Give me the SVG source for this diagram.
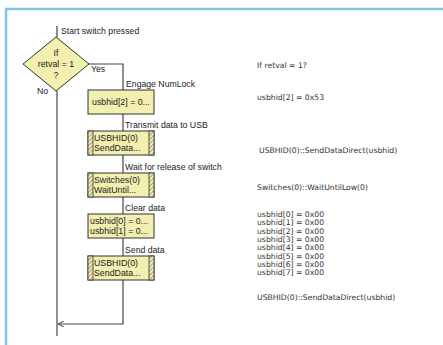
<svg xmlns="http://www.w3.org/2000/svg" width="443" height="345" viewBox="0 0 443 345">
<defs>
<pattern id="hatch" width="3" height="3" patternUnits="userSpaceOnUse" patternTransform="rotate(45)">
<rect width="3" height="3" fill="#f3efb0"/>
<line x1="0" y1="0" x2="0" y2="3" stroke="#555" stroke-width="1"/>
</pattern>
<marker id="arr" viewBox="0 0 6 6" refX="5" refY="3" markerWidth="5" markerHeight="5" orient="auto">
<path d="M0,0 L6,3 L0,6" fill="none" stroke="#444" stroke-width="1"/>
</marker>
</defs>
<style>
.lbl{font-family:"Liberation Sans",Arial,sans-serif;font-size:8.7px;fill:#222}
.btx{font-family:"Liberation Sans",Arial,sans-serif;font-size:8.8px;fill:#222}
.code{font-family:"DejaVu Sans",Verdana,sans-serif;font-size:7.7px;fill:#333}
.box{fill:#f3efb0;stroke:#333;stroke-width:1}
.hat{fill:url(#hatch);stroke:#333;stroke-width:0.8}
.ln{stroke:#444;stroke-width:1.2;fill:none}
</style>
<rect width="443" height="345" fill="#ffffff"/>
<g id="frame">
<line x1="5" y1="9" x2="443" y2="9" stroke="#7cc7df" stroke-width="2.5"/>
<line x1="6" y1="8" x2="6" y2="345" stroke="#7cc7df" stroke-width="2.5"/>
</g>
<g id="connectors">
<line class="ln" x1="57" y1="26" x2="57" y2="37"/>
<line class="ln" x1="57" y1="91" x2="57" y2="336"/>
<polyline class="ln" points="88,64 123,64 123,90"/>
<line class="ln" x1="123" y1="114" x2="123" y2="131"/>
<line class="ln" x1="123" y1="155" x2="123" y2="173"/>
<line class="ln" x1="123" y1="197" x2="123" y2="214"/>
<line class="ln" x1="123" y1="238" x2="123" y2="256"/>
<polyline class="ln" points="123,280 123,324 59,324" marker-end="url(#arr)"/>
</g>
<g id="labels">
<text class="lbl" x="61" y="34">Start switch pressed</text>
<text class="lbl" x="91" y="72">Yes</text>
<text class="lbl" x="37" y="94">No</text>
<text class="lbl" x="126" y="87">Engage NumLock</text>
<text class="lbl" x="125" y="128">Transmit data to USB</text>
<text class="lbl" x="125" y="170">Wait for release of switch</text>
<text class="lbl" x="125" y="211">Clear data</text>
<text class="lbl" x="125" y="253">Send data</text>
</g>
<g id="decision">
<polygon points="56,37 89,64 56,91 23,64" fill="#f3efb0" stroke="#333" stroke-width="1"/>
<text class="btx" x="56" y="56" text-anchor="middle">If</text>
<text class="btx" x="56" y="67" text-anchor="middle">retval = 1</text>
<text class="btx" x="56" y="78" text-anchor="middle">?</text>
</g>
<g id="box1">
<rect class="box" x="88" y="90" width="66" height="24"/>
<text class="btx" x="92" y="105">usbhid[2] = 0...</text>
</g>
<g id="box2">
<rect class="box" x="88" y="131" width="66" height="24"/>
<rect class="hat" x="88" y="131" width="5" height="24"/>
<rect class="hat" x="149" y="131" width="5" height="24"/>
<text class="btx" x="94" y="141">USBHID(0)</text>
<text class="btx" x="94" y="151">SendData...</text>
</g>
<g id="box3">
<rect class="box" x="88" y="173" width="66" height="24"/>
<rect class="hat" x="88" y="173" width="5" height="24"/>
<rect class="hat" x="149" y="173" width="5" height="24"/>
<text class="btx" x="94" y="183">Switches(0)</text>
<text class="btx" x="94" y="193">WaitUntil...</text>
</g>
<g id="box4">
<rect class="box" x="88" y="214" width="66" height="24"/>
<text class="btx" x="90" y="224">usbhid[0] = 0...</text>
<text class="btx" x="90" y="234">usbhid[1] = 0...</text>
</g>
<g id="box5">
<rect class="box" x="88" y="256" width="66" height="24"/>
<rect class="hat" x="88" y="256" width="5" height="24"/>
<rect class="hat" x="149" y="256" width="5" height="24"/>
<text class="btx" x="94" y="266">USBHID(0)</text>
<text class="btx" x="94" y="276">SendData...</text>
</g>
<g id="code">
<text class="code" x="257" y="68">If retval = 1?</text>
<text class="code" x="257" y="100">usbhid[2] = 0x53</text>
<text class="code" x="259" y="153">USBHID(0)::SendDataDirect(usbhid)</text>
<text class="code" x="257" y="190">Switches(0)::WaitUntilLow(0)</text>
<text class="code" x="257" y="217">usbhid[0] = 0x00</text>
<text class="code" x="257" y="225.3">usbhid[1] = 0x00</text>
<text class="code" x="257" y="233.6">usbhid[2] = 0x00</text>
<text class="code" x="257" y="241.9">usbhid[3] = 0x00</text>
<text class="code" x="257" y="250.2">usbhid[4] = 0x00</text>
<text class="code" x="257" y="258.5">usbhid[5] = 0x00</text>
<text class="code" x="257" y="266.8">usbhid[6] = 0x00</text>
<text class="code" x="257" y="275.1">usbhid[7] = 0x00</text>
<text class="code" x="257" y="300">USBHID(0)::SendDataDirect(usbhid)</text>
</g>
</svg>
